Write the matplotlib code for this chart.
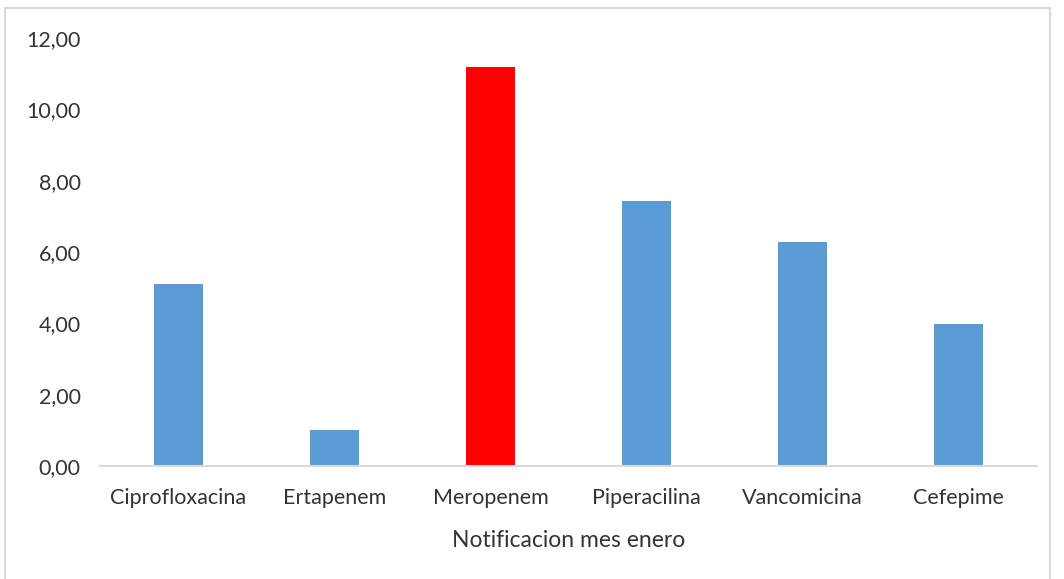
import matplotlib.pyplot as plt
from matplotlib.patches import Rectangle

# data
categories = ['Ciprofloxacina', 'Ertapenem', 'Meropenem', 'Piperacilina',
              'Vancomicina', 'Cefepime']
values = [5.10, 1.00, 11.20, 7.42, 6.28, 3.97]
colors = ['#5B9BD5', '#5B9BD5', '#FF0000', '#5B9BD5', '#5B9BD5', '#5B9BD5']
yticks = [0, 2, 4, 6, 8, 10, 12]

plt.rcParams['font.family'] = ['Lato', 'DejaVu Sans']

fig = plt.figure(figsize=(10.64, 5.79), dpi=100)
ax = fig.add_axes([0.094, 0.1952, 0.8806, 0.7392])

x = range(len(categories))
ax.bar(x, values, width=0.314, color=colors)

ax.set_xlim(-0.5, len(categories) - 0.5)
ax.set_ylim(0, 12)
ax.set_yticks(yticks)
ax.set_yticklabels(['{:.2f}'.format(v).replace('.', ',') for v in yticks])
ax.set_xticks(list(x))
ax.set_xticklabels(categories)
ax.tick_params(length=0, labelsize=15.5, colors='#333333', pad=14)
ax.tick_params(axis='x', pad=16)

for s in ['top', 'right', 'left']:
    ax.spines[s].set_visible(False)
ax.spines['bottom'].set_color('#d9d9d9')
ax.spines['bottom'].set_linewidth(1.5)

ax.set_xlabel('Notificacion mes enero', fontsize=16.5, color='#333333', labelpad=16)

# outer chart border
fig.patches.append(Rectangle((5 / 1064, -0.05), 1045 / 1064, 1.05 - 8 / 579,
                             transform=fig.transFigure, fill=False,
                             edgecolor='#d9d9d9', linewidth=1.5))

fig.savefig('out.png', dpi=100)
